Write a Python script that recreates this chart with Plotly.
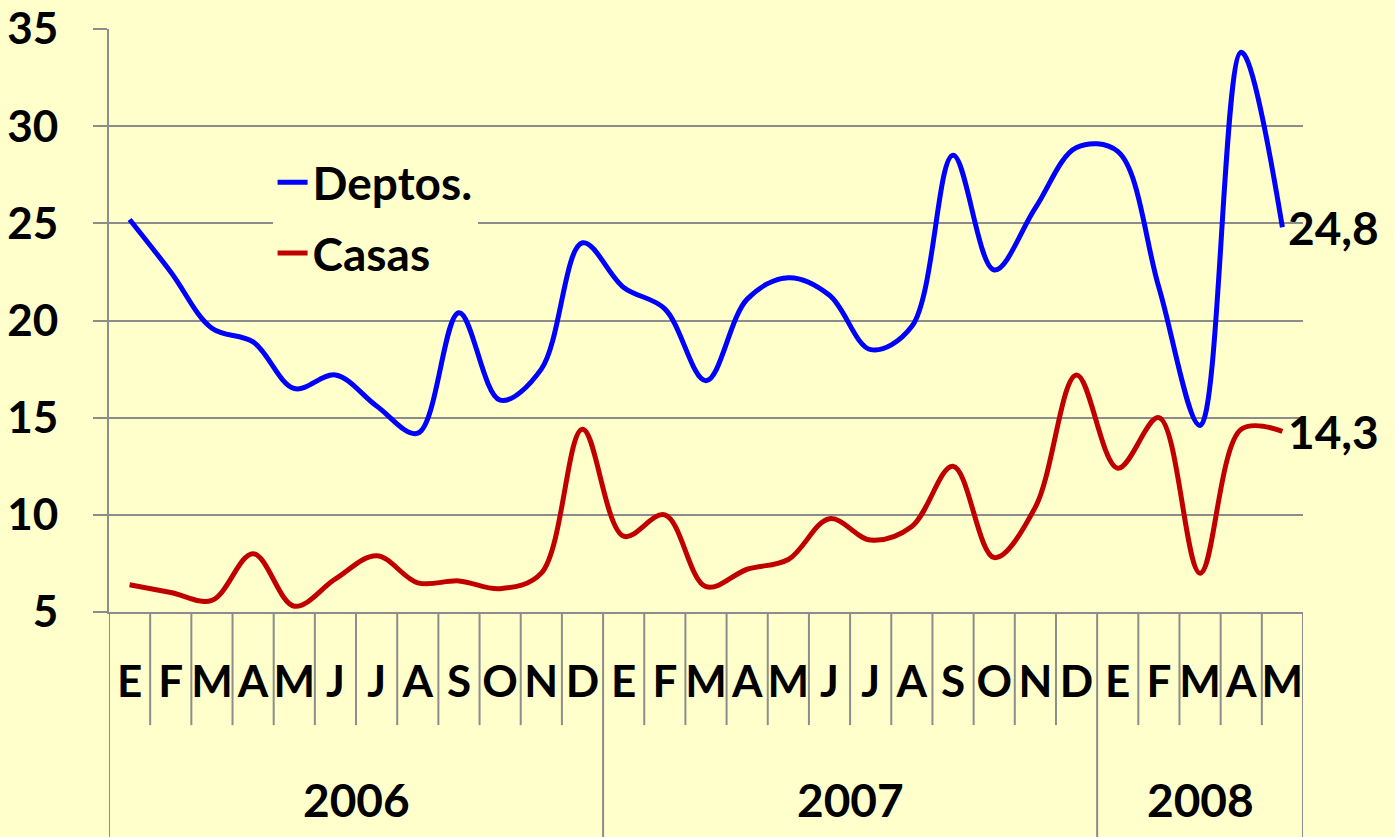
import plotly.graph_objects as go

months = ["E","F","M","A","M","J","J","A","S","O","N","D",
          "E","F","M","A","M","J","J","A","S","O","N","D",
          "E","F","M","A","M"]
years = ["2006"]*12 + ["2007"]*12 + ["2008"]*5

deptos = [25.2, 22.5, 19.6, 18.9, 16.5, 17.2, 15.6, 14.2, 20.4, 15.9, 17.5, 24.0,
          21.7, 20.6, 16.9, 21.1, 22.2, 21.3, 18.5, 19.7, 28.5, 22.6, 25.8, 28.9,
          28.7, 21.7, 14.6, 33.8, 24.8]
casas = [6.4, 6.0, 5.6, 8.0, 5.3, 6.7, 7.9, 6.5, 6.6, 6.2, 7.0, 14.4,
         8.9, 10.0, 6.3, 7.2, 7.7, 9.8, 8.7, 9.4, 12.5, 7.8, 10.4, 17.2,
         12.4, 15.0, 7.0, 14.4, 14.3]

BG = "#FFFFCC"
GRID = "#8C8C8C"
FONT = "Lato"

idx = list(range(len(months)))

fig = go.Figure()
fig.add_trace(go.Scatter(x=idx, y=deptos, name="Deptos.", mode="lines", legendgroup="d",
                         line=dict(color="#0000FF", width=5, shape="spline", smoothing=1)))
fig.add_trace(go.Scatter(x=idx, y=casas, name="Casas", mode="lines", legendgroup="c",
                         line=dict(color="#C00000", width=5, shape="spline", smoothing=1)))

def fmt(v):
    return f"{v:.1f}".replace(".", ",")

for series in (deptos, casas):
    fig.add_annotation(x=idx[-1], y=series[-1], text=fmt(series[-1]), showarrow=False,
                       xanchor="left", yanchor="middle", xshift=4,
                       font=dict(family=FONT, size=46, color="black", weight="bold"))

# separators between months and years
shapes = []
n = len(months)
for i in range(n + 1):
    xb = i - 0.5
    if i == 0 or i == n or years[i] != years[i - 1]:
        y0 = -0.386
    else:
        y0 = -0.194
    shapes.append(dict(type="line", xref="x", yref="paper", x0=xb, x1=xb, y0=0, y1=y0,
                       line=dict(color=GRID, width=2)))
fig.update_layout(shapes=shapes)

# year labels
for yr in dict.fromkeys(years):
    pos = [i for i, y in enumerate(years) if y == yr]
    fig.add_annotation(x=sum(pos) / len(pos), y=-0.322, xref="x", yref="paper",
                       text=yr, showarrow=False, yanchor="middle",
                       font=dict(family=FONT, size=46, color="black", weight="bold"))

legfont = dict(family=FONT, size=46, color="black", weight="bold")
fig.update_layout(
    width=1395, height=837,
    paper_bgcolor=BG, plot_bgcolor=BG,
    margin=dict(l=109, r=92, t=29, b=225, autoexpand=False),
    font=dict(family=FONT, color="black"),
    legend=dict(x=0.137, y=0.676, xanchor="left", yanchor="middle",
                bgcolor=BG, font=legfont, traceorder="grouped", tracegroupgap=8),
    xaxis=dict(range=[-0.5, n - 0.5], tickvals=idx, ticktext=months, showgrid=False,
               zeroline=False, showline=True, linecolor=GRID, linewidth=2,
               ticks="", ticklabelstandoff=30, automargin=False,
               tickfont=dict(family=FONT, size=44, color="black", weight="bold")),
    yaxis=dict(range=[5, 35], dtick=5, showgrid=True, gridcolor=GRID, gridwidth=2,
               zeroline=False, showline=True, linecolor=GRID, linewidth=2,
               ticks="outside", ticklen=14, tickcolor=GRID, tickwidth=2, automargin=False,
               ticklabelstandoff=26,
               tickfont=dict(family=FONT, size=44, color="black", weight="bold")),
)

fig.write_html("out.html", config={"displayModeBar": False},
               post_script="document.body.style.margin='0';document.body.style.background='#FFFFCC';")
